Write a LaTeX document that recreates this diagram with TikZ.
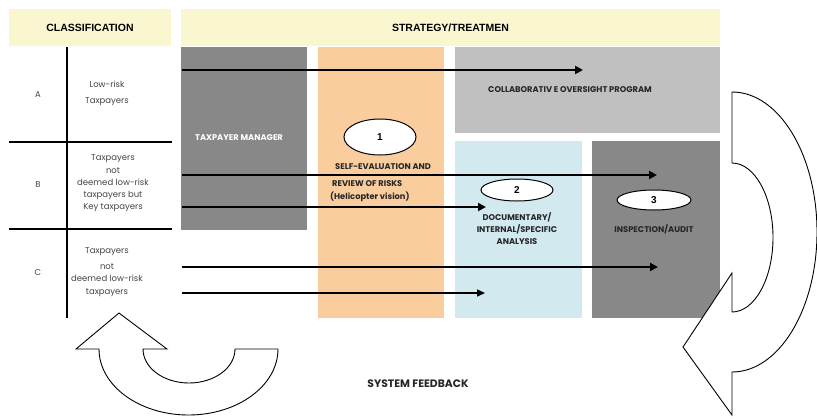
\documentclass[tikz,border=0pt]{standalone}
\usepackage{fontspec}
\setmainfont{Liberation Sans}
\newfontfamily\geo{Poppins}
\usetikzlibrary{arrows.meta,shapes.geometric}
\definecolor{hdr}{HTML}{FAF7D0}
\definecolor{dgray}{HTML}{888888}
\definecolor{lgray}{HTML}{C0C0C0}
\definecolor{peach}{HTML}{F9CD9E}
\definecolor{ice}{HTML}{D3E9F0}
\definecolor{txt}{HTML}{444444}
\begin{document}
\begin{tikzpicture}[x=1pt,y=1pt,
  panel/.style={anchor=north west,inner sep=0pt,outer sep=0pt,draw=none},
  head/.style={font=\bfseries\fontsize{10.5}{12}\selectfont,text=black},
  small/.style={font=\geo\fontsize{8.5}{12.3}\selectfont,text=txt,align=center,inner sep=0pt},
  lab/.style={font=\geo\bfseries\fontsize{8.3}{12}\selectfont,text=black!85,inner sep=0pt},
  badge/.style={ellipse,draw=black,line width=1pt,fill=white,inner sep=0pt,
    font=\bfseries\fontsize{10}{11}\selectfont},
  flow/.style={line width=2.8pt,-{Triangle[length=8pt,width=8pt]}},
  thinflow/.style={line width=1.5pt,-{Triangle[length=8pt,width=7pt]}},
  grid/.style={line width=1.6pt,black},
  loop/.style={draw=black,line width=0.9pt,fill=white,line join=miter}
]
\useasboundingbox (0,0) rectangle (817,-418);

% header bands
\node[panel,fill=hdr,minimum width=162pt,minimum height=37pt] (hclass) at (9,-9) {};
\node[panel,fill=hdr,minimum width=539pt,minimum height=37pt] (hstrat) at (181,-9) {};
\node[head] (tclass) at (hclass.center) {CLASSIFICATION};
\node[head] (tstrat) at (hstrat.center) {STRATEGY/TREATMEN};

% strategy columns
\node[panel,fill=dgray,minimum width=126pt,minimum height=183pt] (mgr) at (181,-47) {};
\node[panel,fill=peach,minimum width=126pt,minimum height=271pt] (self) at (318,-47) {};
\node[panel,fill=lgray,minimum width=265pt,minimum height=86pt] (coop) at (455,-47) {};
\node[panel,fill=ice,minimum width=127pt,minimum height=177pt] (doc) at (455,-141) {};
\node[panel,fill=dgray,minimum width=128pt,minimum height=177pt] (audit) at (592,-141) {};

% classification grid
\coordinate (gtop) at (67,-47);
\coordinate (gbot) at (67,-318);
\coordinate (r1l) at (9,-142);  \coordinate (r1r) at (172,-142);
\coordinate (r2l) at (9,-229);  \coordinate (r2r) at (172,-229);
\draw[grid] (gtop) -- (gbot);
\draw[grid] (r1l) -- (r1r);
\draw[grid] (r2l) -- (r2r);

\node[small] (ka) at (38,-95) {A};
\node[small] (kb) at (38,-185) {B};
\node[small] (kc) at (38,-273) {C};
\node[small,font=\geo\fontsize{8.5}{16}\selectfont] (da) at (107,-93) {Low-risk\\Taxpayers};
\node[small] (db) at (113,-183.5) {Taxpayers\\not\\deemed low-risk\\taxpayers but\\Key taxpayers};
\node[small] (dc) at (107,-272) {Taxpayers\\[3.5pt]not\\deemed low-risk\\taxpayers};

% column labels
\node[lab,text=white] (tmgr) at (239,-138) {TAXPAYER MANAGER};
\node[lab] (tcoop) at (570,-90) {COLLABORATIV E OVERSIGHT PROGRAM};
\node[badge,minimum width=72pt,minimum height=36pt] (b1) at (380,-137) {1};
\node[lab,anchor=west] (s1) at (335,-167) {SELF-EVALUATION AND};
\node[lab,anchor=west] (s2) at (332,-184) {REVIEW OF RISKS};
\node[lab,anchor=west] (s3) at (330,-197) {(Helicopter vision)};
\node[badge,minimum width=72pt,minimum height=22pt] (b2) at (517,-190) {2};
\node[lab,align=center,font=\geo\bfseries\fontsize{8.3}{12}\selectfont] (tdoc) at (517,-229)
  {DOCUMENTARY/\\INTERNAL/SPECIFIC\\ANALYSIS};
\node[badge,minimum width=74pt,minimum height=20pt] (b3) at (654,-200) {3};
\node[lab] (taud) at (654,-229) {INSPECTION/AUDIT};

% routing of each class through the treatments
\coordinate (a1s) at (182,-70);  \coordinate (a1e) at (583,-70);
\coordinate (a2s) at (182,-175); \coordinate (a2e) at (657,-175);
\coordinate (a3s) at (182,-207); \coordinate (a3e) at (486,-207);
\coordinate (a4s) at (182,-267); \coordinate (a4e) at (658,-267);
\coordinate (a5s) at (182,-293); \coordinate (a5e) at (485,-293);
\draw[flow] (a1s) -- (a1e);
\draw[flow] (a2s) -- (a2e);
\draw[flow] (a3s) -- (a3e);
\draw[flow] (a4s) -- (a4e);
\draw[thinflow] (a5s) -- (a5e);

% feedback loop arrows
\draw[loop] (732,-92) arc[start angle=90,end angle=-90,x radius=85,y radius=140]
  -- (732,-415) -- (683,-347) -- (732,-273) -- (732,-312)
  arc[start angle=-90,end angle=90,x radius=41,y radius=74.5] -- cycle;
\draw[loop] (143,-349) -- (167,-349) -- (119,-313) -- (76,-349) -- (99,-349)
  arc[start angle=180,end angle=360,x radius=89.5,y radius=66]
  -- (235,-349) arc[start angle=0,end angle=-180,x radius=46,y radius=34] -- cycle;

\node[lab,font=\geo\bfseries\fontsize{10.8}{12}\selectfont] (fb) at (418,-384) {SYSTEM FEEDBACK};
\end{tikzpicture}
\end{document}
